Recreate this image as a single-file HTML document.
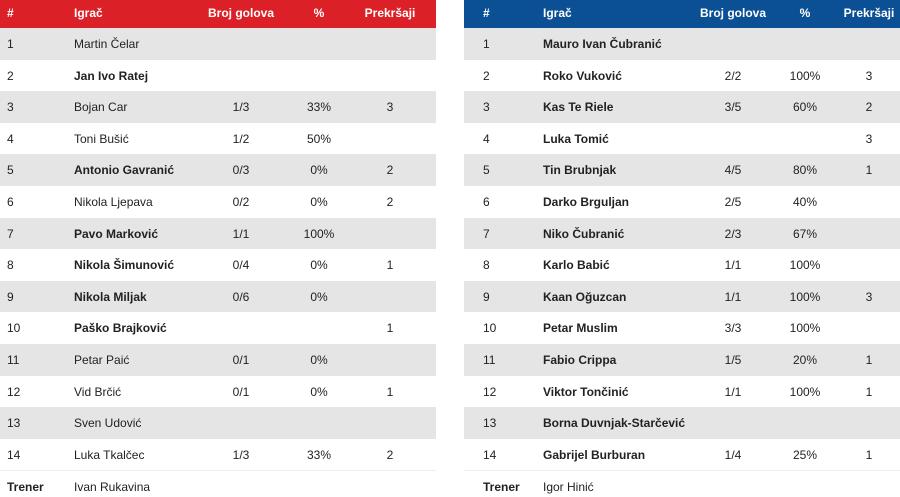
<!DOCTYPE html>
<html><head><meta charset="utf-8"><style>
body{margin:0;width:900px;height:497px;background:#fff;position:relative;overflow:hidden;font-family:"Liberation Sans",sans-serif;font-size:12px;color:#222}
.c{position:absolute;white-space:nowrap;line-height:16px}
.hd{position:absolute;top:0;height:28px}
.row{position:absolute;height:31.6px}
</style></head><body>
<script>
const leftNames=["Martin Čelar","Jan Ivo Ratej","Bojan Car","Toni Bušić","Antonio Gavranić","Nikola Ljepava","Pavo Marković","Nikola Šimunović","Nikola Miljak","Paško Brajković","Petar Paić","Vid Brčić","Sven Udović","Luka Tkalčec"];
const leftBold=[0,1,0,0,1,0,1,1,1,1,0,0,0,0];
const leftGoals=["","","1/3","1/2","0/3","0/2","1/1","0/4","0/6","","0/1","0/1","","1/3"];
const leftPct=["","","33%","50%","0%","0%","100%","0%","0%","","0%","0%","","33%"];
const leftFouls=["","","3","","2","2","","1","","1","","1","","2"];
const rightNames=["Mauro Ivan Čubranić","Roko Vuković","Kas Te Riele","Luka Tomić","Tin Brubnjak","Darko Brguljan","Niko Čubranić","Karlo Babić","Kaan Oğuzcan","Petar Muslim","Fabio Crippa","Viktor Tončinić","Borna Duvnjak-Starčević","Gabrijel Burburan"];
const rightGoals=["","2/2","3/5","","4/5","2/5","2/3","1/1","1/1","3/3","1/5","1/1","","1/4"];
const rightPct=["","100%","60%","","80%","40%","67%","100%","100%","100%","20%","100%","","25%"];
const rightFouls=["","3","2","3","1","","","","3","","1","1","","1"];

function cell(parent,text,x,y,opts){
  const d=document.createElement('div');d.className='c';d.textContent=text;
  d.style.top=(y-8)+'px';
  if(opts.center){d.style.left=(x-50)+'px';d.style.width='100px';d.style.textAlign='center';}
  else d.style.left=x+'px';
  if(opts.bold)d.style.fontWeight='bold';
  if(opts.color)d.style.color=opts.color;
  
  
  parent.appendChild(d);
}
function table(L,hdColor,names,bold,goals,pct,fouls,xs,side){
  const hd=document.createElement('div');hd.className='hd';
  hd.style.left=L+'px';hd.style.width='436px';hd.style.background=hdColor;
  
  
  document.body.appendChild(hd);
  const heads=["#","Igrač","Broj golova","%","Prekršaji"];
  heads.forEach((h,i)=>cell(document.body,h,i<2?xs[i]:xs[i],13,{center:i>=2,bold:true,color:'#fff',name:side+'-header-'+i}));
  names.forEach((n,i)=>{
    const top=28+i*31.6;
    const r=document.createElement('div');r.className='row';
    r.style.left=L+'px';r.style.width='436px';r.style.top=top+'px';
    r.style.background=i%2===0?'#e5e5e5':'#fff';
    
    
    document.body.appendChild(r);
    const y=top+16;
    cell(document.body,String(i+1),xs[0],y,{name:side+'-player-number'});
    cell(document.body,n,xs[1],y,{bold:bold[i],name:side+'-player-name'});
    cell(document.body,goals[i],xs[2],y,{center:true,name:side+'-goals'});
    cell(document.body,pct[i],xs[3],y,{center:true,name:side+'-percent'});
    cell(document.body,fouls[i],xs[4],y,{center:true,name:side+'-fouls'});
  });
  const line=document.createElement('div');
  line.style.cssText='position:absolute;top:470px;height:1px;width:436px;background:#eee;left:'+L+'px';
  
  
  document.body.appendChild(line);
}
table(0,'#dc2027',leftNames,leftBold,leftGoals,leftPct,leftFouls,[7,74,241,319,390],'home');
table(464,'#0b4f95',rightNames,rightNames.map(()=>1),rightGoals,rightPct,rightFouls,[483,543,733,805,869],'away');
cell(document.body,"Trener",7,487,{bold:true,name:'home-coach-label'});
cell(document.body,"Ivan Rukavina",74,487,{name:'home-coach-name'});
cell(document.body,"Trener",483,487,{bold:true,name:'away-coach-label'});
cell(document.body,"Igor Hinić",543,487,{name:'away-coach-name'});
</script>
</body></html>
